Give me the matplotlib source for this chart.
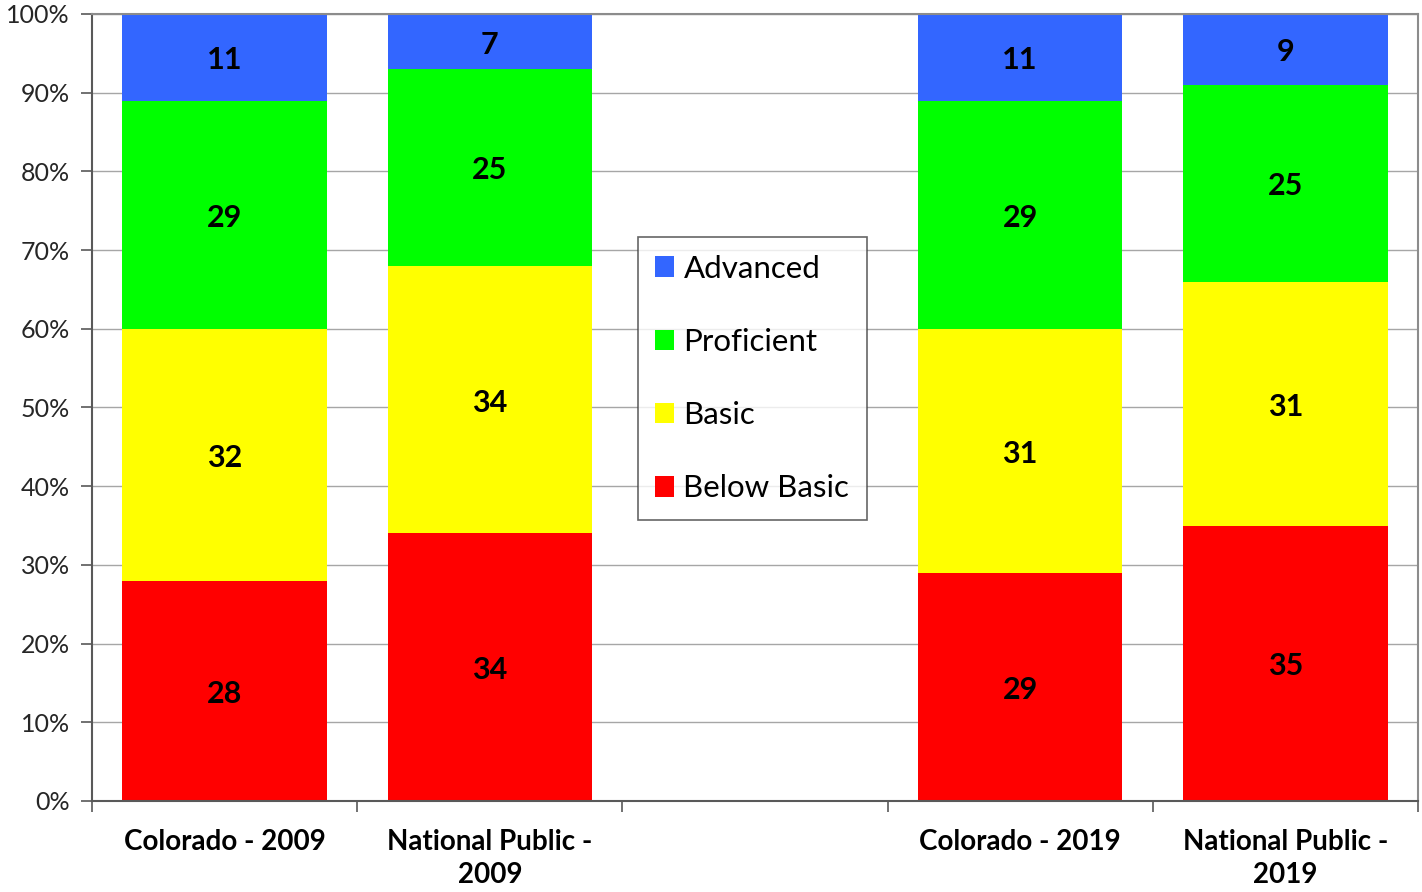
import numpy as np
import matplotlib.pyplot as plt
import matplotlib.transforms as mtransforms
from matplotlib.ticker import FixedLocator, PercentFormatter

categories = ["Colorado - 2009", "National Public -\n2009", "", "Colorado - 2019", "National Public -\n2019"]
levels = ["Below Basic", "Basic", "Proficient", "Advanced"]
below_basic = [28, 34, np.nan, 29, 35]
basic = [32, 34, np.nan, 31, 31]
proficient = [29, 25, np.nan, 29, 25]
advanced = [11, 7, np.nan, 11, 9]
colors = ["#FF0000", "#FFFF00", "#00FF00", "#3366FF"]

plt.rcParams['font.family'] = ['Lato', 'DejaVu Sans']

fig = plt.figure(figsize=(14.22, 8.92), dpi=100)
ax = fig.add_axes([92/1422, 1-801/892, (1418-92)/1422, (801-14)/892])
# nudge value labels down a few pixels
lbl_trans = mtransforms.offset_copy(ax.transData, fig=fig, y=-3, units="dots")

x = np.arange(len(categories))
bottom = np.zeros(len(categories))
bars = []
for name, vals, c in zip(levels, [below_basic, basic, proficient, advanced], colors):
    v = np.array(vals, dtype=float)
    b = ax.bar(x, np.nan_to_num(v), 0.77, bottom=bottom, color=c, label=name, zorder=2)
    for xi, yi, bi in zip(x, v, bottom):
        if not np.isnan(yi):
            ax.text(xi, bi + yi/2, f"{int(yi)}", ha="center", va="center", transform=lbl_trans,
                    fontsize=22, fontweight="bold", color="black", zorder=3)
    bottom += np.nan_to_num(v)
    bars.append(b)

ax.set_xlim(-0.5, 4.5)
ax.set_ylim(0, 100)
ax.yaxis.set_major_locator(FixedLocator(np.arange(0, 101, 10)))
ax.yaxis.set_major_formatter(PercentFormatter(decimals=0))
ax.grid(axis="y", color="#A6A6A6", linewidth=1, zorder=0)

ax.set_xticks(np.arange(-0.5, 4.6, 1))
ax.set_xticklabels([])
ax.set_xticks(x, minor=True)
ax.set_xticklabels(categories, minor=True, fontsize=20, fontweight="bold", linespacing=1.35)
ax.tick_params(axis="x", which="minor", length=0, pad=20)
ax.tick_params(axis="x", which="major", length=8, width=1.2, color="#595959", direction="out")
ax.tick_params(axis="y", length=8, width=1.2, color="#595959", labelsize=18, labelcolor="#262626", pad=8)

for s in ["top", "right"]:
    ax.spines[s].set_color("#8C8C8C")
    ax.spines[s].set_linewidth(1.5)
for s in ["left", "bottom"]:
    ax.spines[s].set_color("#595959")
    ax.spines[s].set_linewidth(1.5)

handles = bars[::-1]
leg = ax.legend(handles, levels[::-1], loc="center", bbox_to_anchor=(752/1422, 1-378.5/892),
                bbox_transform=fig.transFigure, fontsize=22.5, frameon=True, fancybox=False,
                edgecolor="#404040", handlelength=0.62, handleheight=0.62, handletextpad=0.3,
                labelspacing=1.45, borderpad=0.55, borderaxespad=0)
leg.get_frame().set_linewidth(1.2)

fig.savefig("out.png", dpi=100)
